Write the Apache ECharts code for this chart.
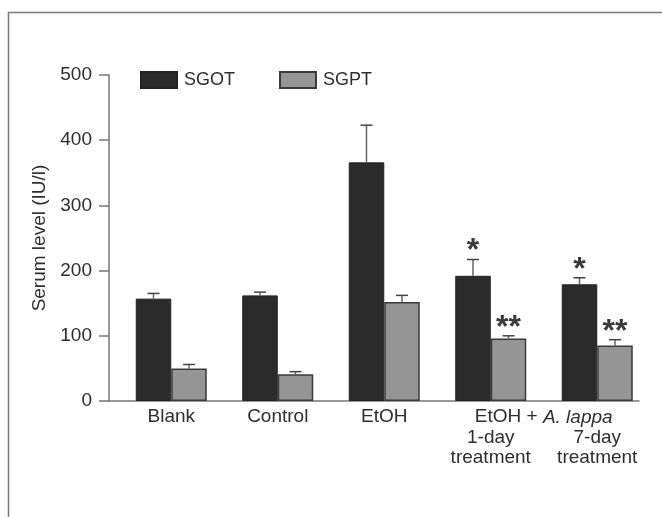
<!DOCTYPE html>
<html><head><meta charset="utf-8">
<script src="https://cdn.jsdelivr.net/npm/echarts@6/dist/echarts.min.js"></script>
<style>html,body{margin:0;padding:0;background:#fff}#c{width:662px;height:517px}</style>
</head><body><div id="c"></div>
<script>
// ---- data ----
const categories = ['Blank', 'Control', 'EtOH', '1-day\ntreatment', '7-day\ntreatment'];
const groupPrefix = ['', '', '', 'EtOH +', 'A. lappa'];
const seriesNames = ['SGOT', 'SGPT'];
const sgot = [157, 162, 366, 192, 179];
const sgotErr = [8, 5, 57, 25, 10];
const sgpt = [50, 41, 152, 96, 85];
const sgptErr = [6, 4, 10, 4, 9];
const sgotMark = ['', '', '', '*', '*'];
const sgptMark = ['', '', '', '**', '**'];
const yMin = 0, yMax = 500, yStep = 100;

// ---- style ----
const FONT = '"Liberation Sans", Arial, sans-serif';
const BAR_W = 35.5;
const TXT = '#2e2e2e';
const AX = '#777';
const prefixStyle = ['', '', '', 'pre', 'it'];

function errSeries(name, vals, errs, marks, side) {
  return {
    type: 'custom', name: name + ' err', xAxisIndex: 0, yAxisIndex: 0, z: 5,
    data: vals.map((v, i) => [i, v, errs[i]]),
    encode: { x: 0, y: 1 },
    renderItem(params, api) {
      const i = api.value(0);
      const base = api.coord([i, api.value(1)]);
      const top = api.coord([i, api.value(1) + api.value(2)]);
      const x = base[0] + side * BAR_W / 2;
      const children = [
        { type: 'line', shape: { x1: x, y1: base[1], x2: x, y2: top[1] }, style: { stroke: '#666', lineWidth: 1.5 } },
        { type: 'line', shape: { x1: x - 6, y1: top[1], x2: x + 6, y2: top[1] }, style: { stroke: '#444', lineWidth: 1.5 } }
      ];
      const m = marks[params.dataIndex];
      if (m) children.push({ type: 'text', x: x, y: top[1] + 8,
        style: { text: m, font: 'bold 32px ' + FONT, fill: '#3a3a3a', align: 'center', verticalAlign: 'bottom' } });
      return { type: 'group', children };
    }
  };
}

const chart = echarts.init(document.getElementById('c'), null, { renderer: 'canvas' });
chart.setOption({
  animation: false,
  backgroundColor: '#fff',
  graphic: [{ type: 'rect', left: 6, top: 10, shape: { x: 0, y: 0, width: 700, height: 600 },
    style: { fill: 'none', stroke: '#7a7a7a', lineWidth: 1.5 }, silent: true }],
  legend: {
    data: seriesNames, left: 135, top: 66, itemWidth: 36, itemHeight: 16, itemGap: 44, icon: 'rect',
    textStyle: { fontSize: 18, color: TXT, fontFamily: FONT, padding: [0, 0, 0, 2] }
  },
  grid: [
    { left: 118, right: 11.5, top: 75, bottom: 116 },
    { left: 109, right: 23, top: 75, bottom: 116 }
  ],
  xAxis: [
    { type: 'category', gridIndex: 0, data: categories,
      axisLine: { show: false }, axisTick: { show: false },
      axisLabel: { interval: 0, margin: 6, fontSize: 19, lineHeight: 20.5, color: TXT, fontFamily: FONT,
        formatter: (v, i) => groupPrefix[i] ? '{' + prefixStyle[i] + '|' + groupPrefix[i] + '}\n' + v : v,
        rich: {
          pre: { fontSize: 19, lineHeight: 20.5, color: TXT, fontFamily: FONT, padding: [0, 0, 0, 31] },
          it: { fontSize: 19, lineHeight: 20.5, color: TXT, fontFamily: FONT, fontStyle: 'italic', padding: [0, 39, 0, 0] }
        } } },
    { type: 'value', gridIndex: 1, min: 0, max: 1,
      axisLine: { show: true, onZero: false, lineStyle: { color: AX, width: 1.5 } },
      axisTick: { show: false }, axisLabel: { show: false }, splitLine: { show: false } }
  ],
  yAxis: [
    { type: 'value', gridIndex: 0, min: yMin, max: yMax, interval: yStep, offset: 9,
      axisLine: { show: true, lineStyle: { color: AX, width: 1.5 } },
      axisTick: { show: true, length: 10, lineStyle: { color: AX, width: 1.5 } },
      axisLabel: { fontSize: 19, color: TXT, margin: 17, fontFamily: FONT },
      splitLine: { show: false },
      name: 'Serum level (IU/l)', nameLocation: 'middle', nameGap: 53,
      nameTextStyle: { fontSize: 19, color: TXT, fontFamily: FONT } },
    { type: 'value', gridIndex: 1, show: false, min: 0, max: 1 }
  ],
  series: [
    { name: 'SGOT', type: 'bar', data: sgot, barWidth: BAR_W, barGap: '0%',
      itemStyle: { color: '#2b2b2b', borderColor: '#222', borderWidth: 1 } },
    { name: 'SGPT', type: 'bar', data: sgpt, barWidth: BAR_W, barGap: '0%',
      itemStyle: { color: '#959595', borderColor: '#3a3a3a', borderWidth: 1.5 } },
    errSeries('SGOT', sgot, sgotErr, sgotMark, -1),
    errSeries('SGPT', sgpt, sgptErr, sgptMark, 1)
  ]
});
</script></body></html>
